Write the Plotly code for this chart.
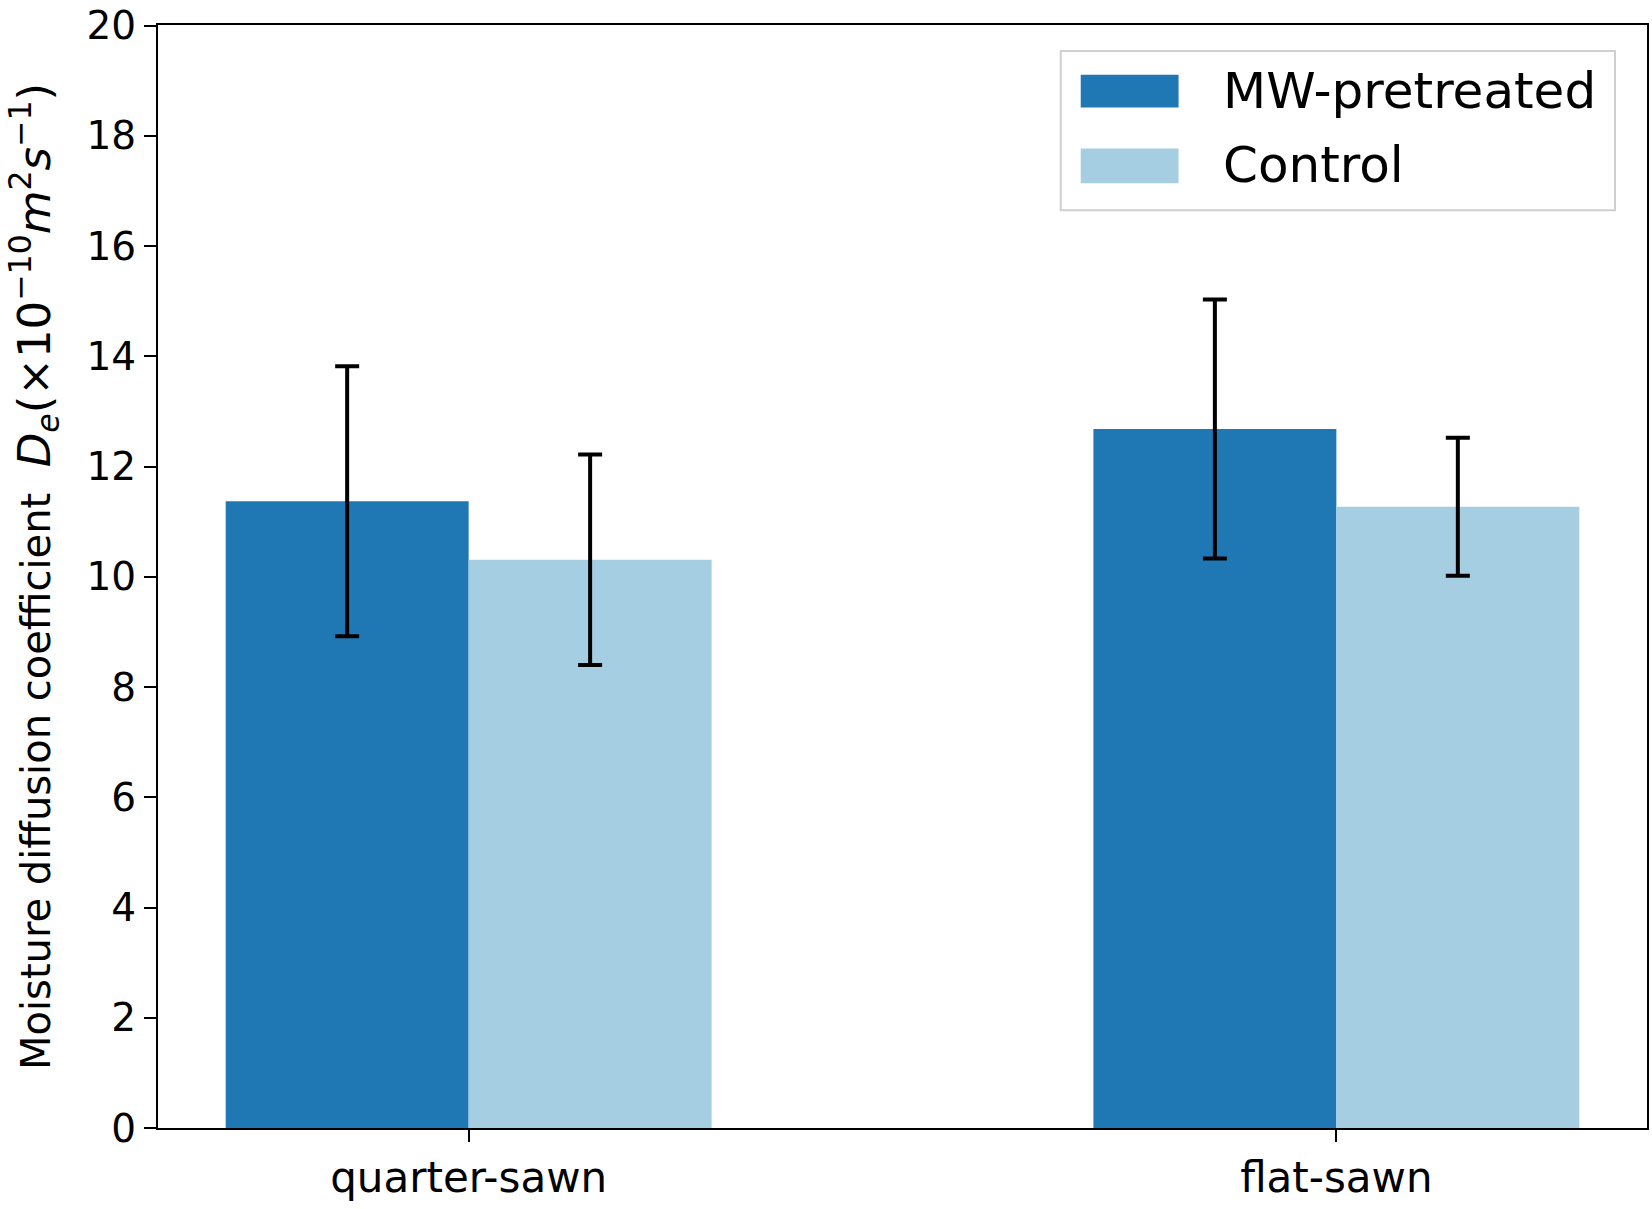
import plotly.graph_objects as go

categories = ["quarter-sawn", "flat-sawn"]
series_names = ["MW-pretreated", "Control"]
mw_values = [11.37, 12.68]
mw_errors = [2.45, 2.35]
control_values = [10.31, 11.27]
control_errors = [1.91, 1.25]
y_ticks = [0, 2, 4, 6, 8, 10, 12, 14, 16, 18, 20]

colors = ["#1f78b4", "#a6cee3"]
x_pos = list(range(len(categories)))

fig = go.Figure()
for name, vals, errs, col in zip(series_names, [mw_values, control_values],
                                 [mw_errors, control_errors], colors):
    fig.add_trace(go.Bar(
        x=x_pos, y=vals, name=name, marker=dict(color=col, line=dict(width=0)),
        error_y=dict(type="data", array=errs, visible=True, color="black",
                     thickness=4, width=12),
        showlegend=False,
    ))

font_family = "DejaVu Sans"
fig.update_layout(
    width=1652, height=1209,
    margin=dict(l=158, r=3, t=20, b=81),
    paper_bgcolor="white", plot_bgcolor="white",
    barmode="group", bargap=0.44, bargroupgap=0,
    font=dict(family=font_family, color="black", size=38),
    showlegend=False,
)
fig.update_xaxes(
    range=[-0.358, 1.358], tickmode="array", tickvals=x_pos, ticktext=categories,
    showline=True, linecolor="black", linewidth=2, mirror=True,
    ticks="outside", ticklen=12, tickwidth=2, tickcolor="black",
    showgrid=False, zeroline=False, tickfont=dict(size=42),
    ticklabeloverflow="allow",
)
math_part = ("<span style='font-size:45px'><i>D</i><sub><i>e</i></sub>(×10<sup>−10</sup>"
             "<i>m</i><sup>2</sup><i>s</i><sup>−1</sup>)</span>")
fig.update_yaxes(
    range=[0, 20.01], tickmode="array", tickvals=y_ticks,
    showline=True, linecolor="black", linewidth=2, mirror=True,
    ticks="outside", ticklen=12, tickwidth=2, tickcolor="black",
    showgrid=False, zeroline=False, tickfont=dict(size=39),
    ticklabeloverflow="allow",
    title=dict(
        text="Moisture diffusion coefficient  " + math_part,
        font=dict(size=40), standoff=24,
    ),
)

# legend box (drawn manually to match wide swatches)
fig.add_shape(type="rect", xref="paper", yref="paper", x0=0.6063, x1=0.9785,
              y0=0.8321, y1=0.9765, line=dict(color="#d0d0d0", width=2),
              fillcolor="rgba(255,255,255,0.8)", layer="above")
rows = [(0.9549, 0.9251, 0.9404), (0.8881, 0.8565, 0.8727)]
for name, col, (ya, yb, yt) in zip(series_names, colors, rows):
    fig.add_shape(type="rect", xref="paper", yref="paper", x0=0.6197, x1=0.6854,
                  y0=yb, y1=ya, line=dict(width=0), fillcolor=col, layer="above")
    fig.add_annotation(xref="paper", yref="paper", x=0.7136, y=yt, text=name,
                       showarrow=False, xanchor="left", yanchor="middle",
                       font=dict(size=50, family=font_family, color="black"))

fig.write_html("out.html", config={"displayModeBar": False},
               post_script="document.body.style.margin='0';document.body.style.overflow='hidden';")
